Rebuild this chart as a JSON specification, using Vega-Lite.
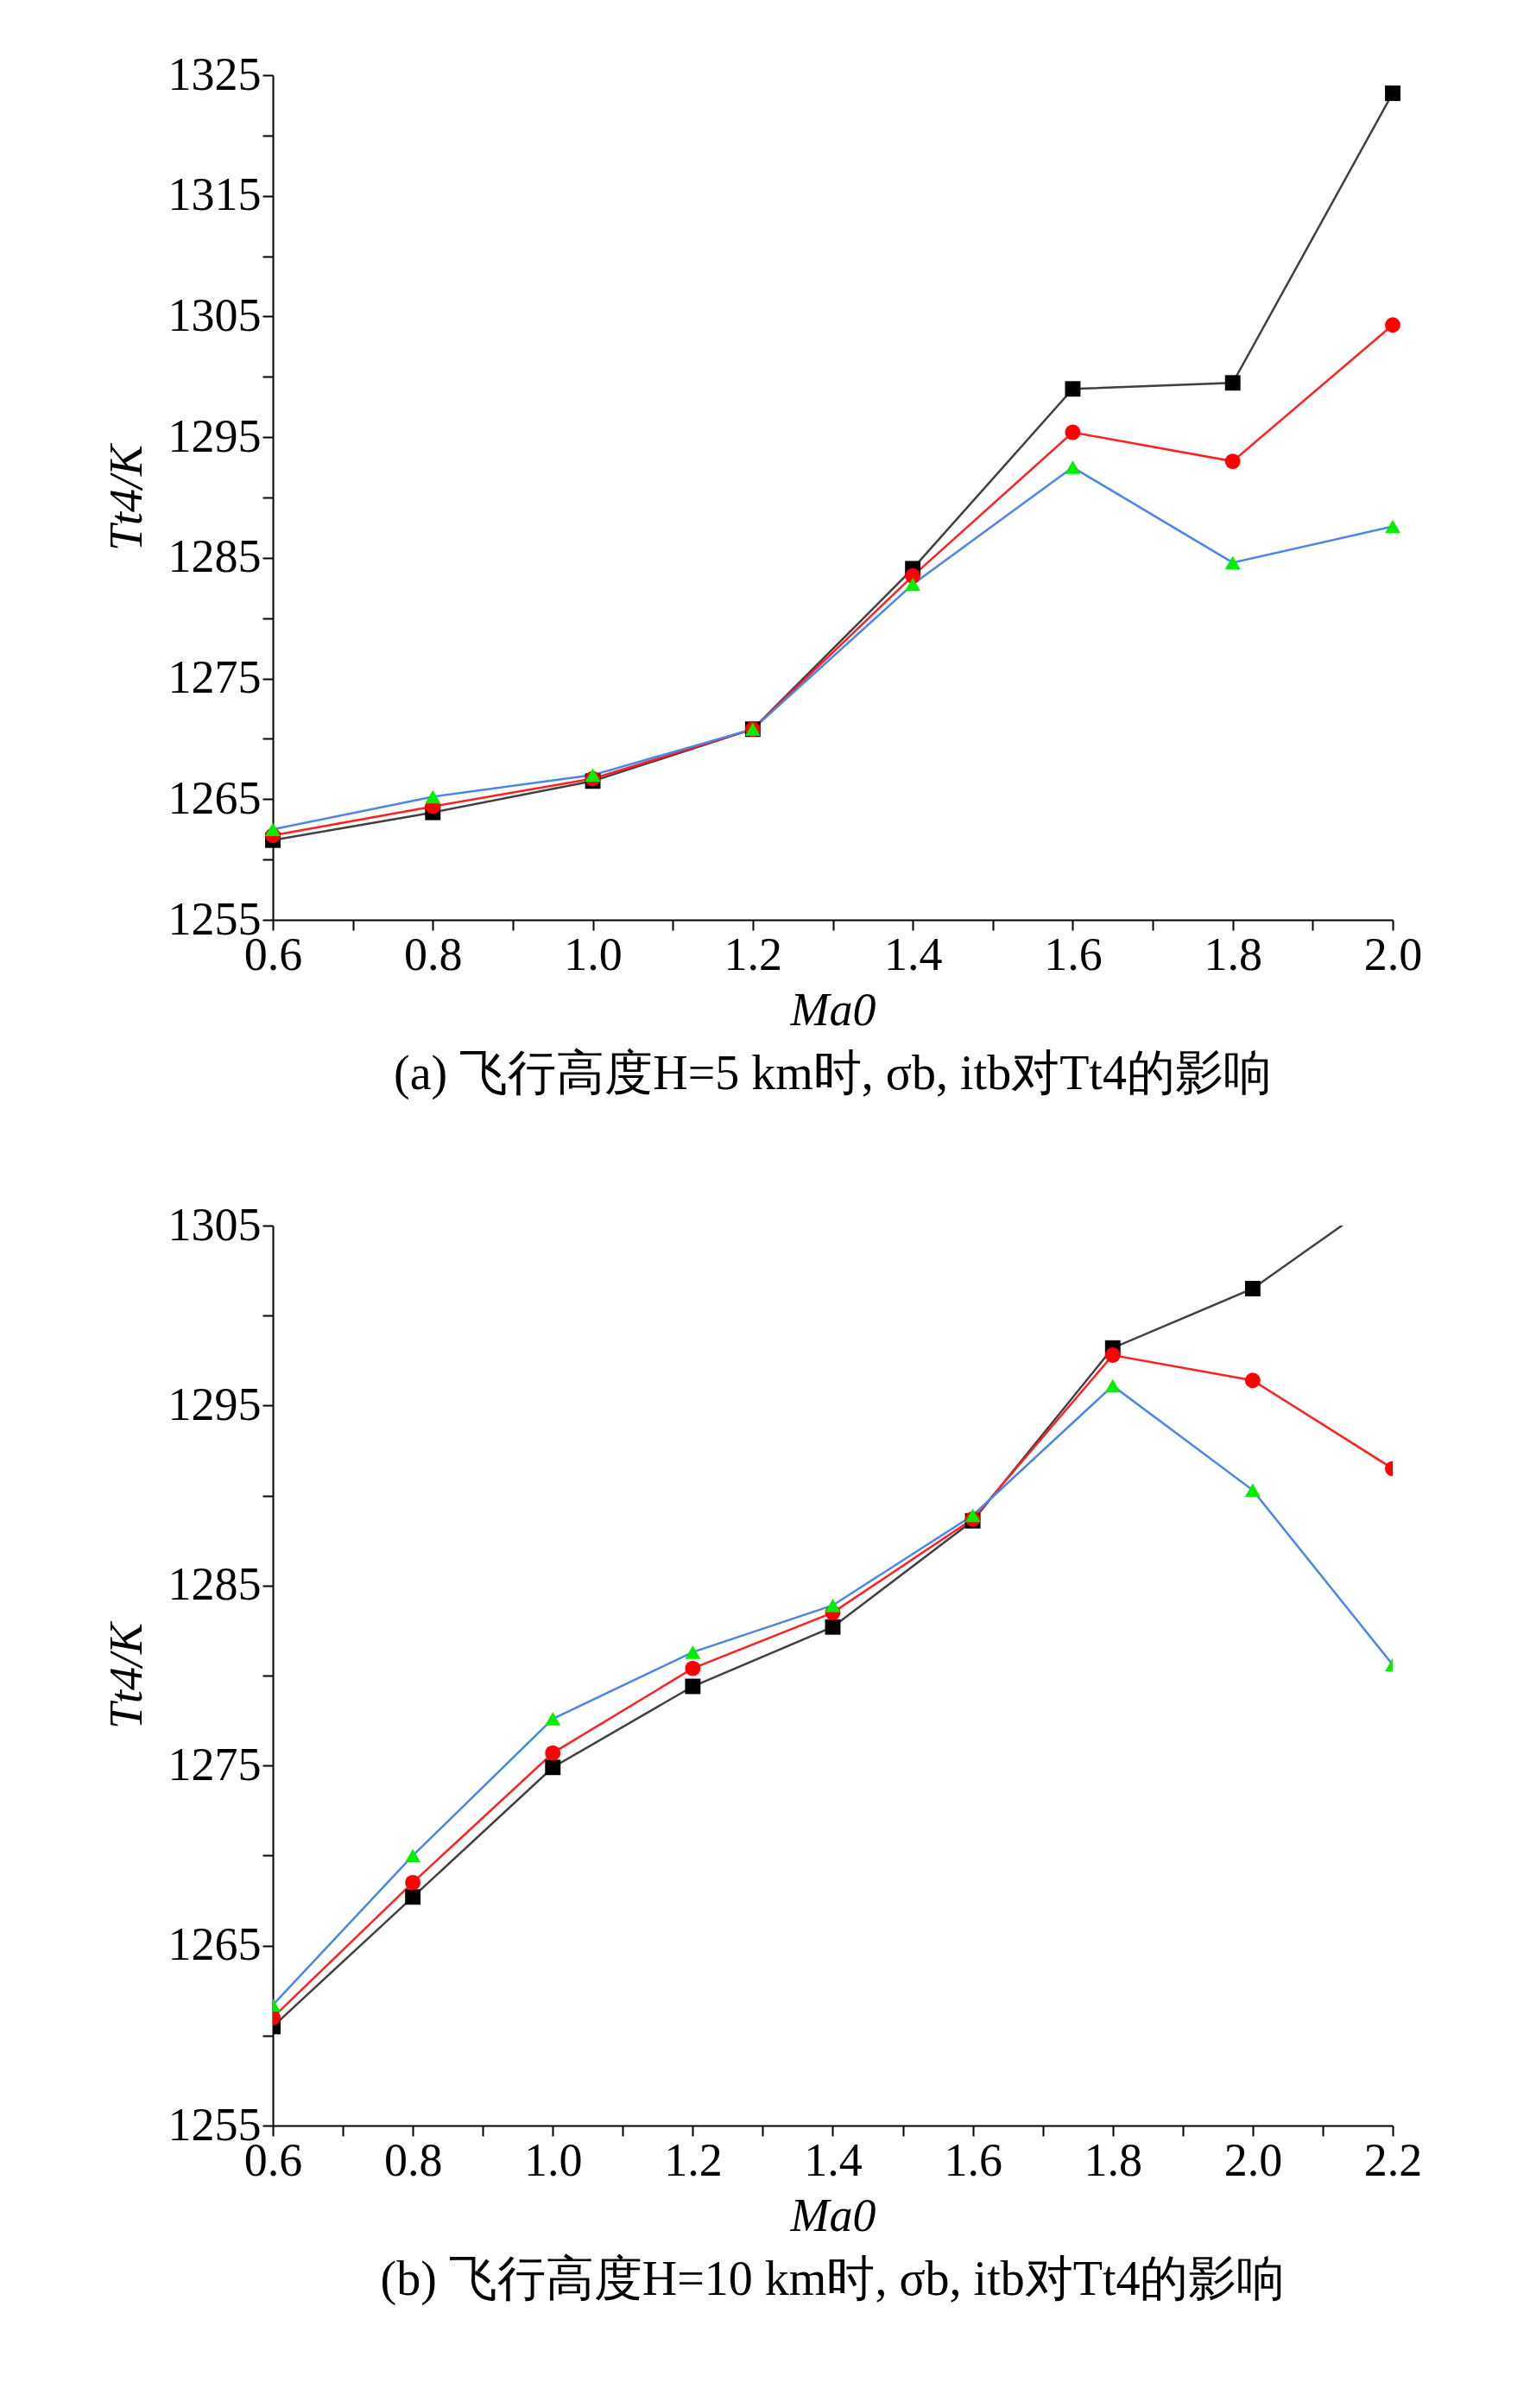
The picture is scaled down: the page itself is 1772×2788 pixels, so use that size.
{
"$schema":"https://vega.github.io/schema/vega-lite/v6.json",
"background":"white",
"padding":{"left":120,"top":60,"right":100,"bottom":20},
"config":{"font":"Liberation Serif","view":{"stroke":null},
 "axis":{"grid":false,"domainColor":"black","tickColor":"black","labelFontSize":54,"titleFontSize":54,"labelColor":"black","titleColor":"black","titleFontWeight":"normal","titleFontStyle":"italic","labelFont":"Liberation Serif","titleFont":"Liberation Serif","domainWidth":2,"tickWidth":2,"tickSize":12,"labelFlush":false},
 "legend":{"labelFontSize":54,"labelFont":"Liberation Serif","symbolSize":300,"rowPadding":20,"labelColor":"black"},
 "title":{"fontSize":56,"font":"Liberation Serif","fontWeight":"normal","color":"black"}},
"datasets":{
"a":[
{"ma":0.6,"s":"σb, itb=0.92","t":1261.6},{"ma":0.8,"s":"σb, itb=0.92","t":1263.9},{"ma":1.0,"s":"σb, itb=0.92","t":1266.5},{"ma":1.2,"s":"σb, itb=0.92","t":1270.8},{"ma":1.4,"s":"σb, itb=0.92","t":1284.1},{"ma":1.6,"s":"σb, itb=0.92","t":1299},{"ma":1.8,"s":"σb, itb=0.92","t":1299.5},{"ma":2.0,"s":"σb, itb=0.92","t":1323.5},
{"ma":0.6,"s":"σb, itb=0.86","t":1262},{"ma":0.8,"s":"σb, itb=0.86","t":1264.4},{"ma":1.0,"s":"σb, itb=0.86","t":1266.7},{"ma":1.2,"s":"σb, itb=0.86","t":1270.8},{"ma":1.4,"s":"σb, itb=0.86","t":1283.5},{"ma":1.6,"s":"σb, itb=0.86","t":1295.4},{"ma":1.8,"s":"σb, itb=0.86","t":1293},{"ma":2.0,"s":"σb, itb=0.86","t":1304.3},
{"ma":0.6,"s":"σb, itb=0.80","t":1262.5},{"ma":0.8,"s":"σb, itb=0.80","t":1265.2},{"ma":1.0,"s":"σb, itb=0.80","t":1267},{"ma":1.2,"s":"σb, itb=0.80","t":1270.8},{"ma":1.4,"s":"σb, itb=0.80","t":1282.8},{"ma":1.6,"s":"σb, itb=0.80","t":1292.5},{"ma":1.8,"s":"σb, itb=0.80","t":1284.6},{"ma":2.0,"s":"σb, itb=0.80","t":1287.6}],
"b":[
{"ma":0.6,"s":"σb, itb=0.92","t":1260.5},{"ma":0.8,"s":"σb, itb=0.92","t":1267.7},{"ma":1.0,"s":"σb, itb=0.92","t":1274.9},{"ma":1.2,"s":"σb, itb=0.92","t":1279.4},{"ma":1.4,"s":"σb, itb=0.92","t":1282.7},{"ma":1.6,"s":"σb, itb=0.92","t":1288.6},{"ma":1.8,"s":"σb, itb=0.92","t":1298.2},{"ma":2.0,"s":"σb, itb=0.92","t":1301.5},{"ma":2.2,"s":"σb, itb=0.92","t":1307},
{"ma":0.6,"s":"σb, itb=0.86","t":1261},{"ma":0.8,"s":"σb, itb=0.86","t":1268.5},{"ma":1.0,"s":"σb, itb=0.86","t":1275.7},{"ma":1.2,"s":"σb, itb=0.86","t":1280.4},{"ma":1.4,"s":"σb, itb=0.86","t":1283.5},{"ma":1.6,"s":"σb, itb=0.86","t":1288.7},{"ma":1.8,"s":"σb, itb=0.86","t":1297.8},{"ma":2.0,"s":"σb, itb=0.86","t":1296.4},{"ma":2.2,"s":"σb, itb=0.86","t":1291.5},
{"ma":0.6,"s":"σb, itb=0.80","t":1261.7},{"ma":0.8,"s":"σb, itb=0.80","t":1270},{"ma":1.0,"s":"σb, itb=0.80","t":1277.6},{"ma":1.2,"s":"σb, itb=0.80","t":1281.3},{"ma":1.4,"s":"σb, itb=0.80","t":1283.9},{"ma":1.6,"s":"σb, itb=0.80","t":1288.9},{"ma":1.8,"s":"σb, itb=0.80","t":1296.1},{"ma":2.0,"s":"σb, itb=0.80","t":1290.3},{"ma":2.2,"s":"σb, itb=0.80","t":1280.6}]
},
"resolve":{"scale":{"fill":"independent","shape":"independent","stroke":"independent"},"legend":{"fill":"independent","shape":"independent"}},
"vconcat":[
{"width":1297,"height":978,"data":{"name":"a"},
 "title":{"text":"(a) 飞行高度H=5 km时, σb, itb对Tt4的影响","orient":"bottom","offset":20},
 "encoding":{"x":{"field":"ma","type":"quantitative","title":"Ma0","scale":{"domain":[0.6,2.0],"nice":false},"axis":{"values":[0.6,0.7,0.8,0.9,1.0,1.1,1.2,1.3,1.4,1.5,1.6,1.7,1.8,1.9,2.0],"labelExpr":"(round(datum.value*10)%2==0) ? format(datum.value,'.1f') : ''","titlePadding":10}},
  "y":{"field":"t","type":"quantitative","title":"Tt4/K","scale":{"domain":[1255,1325],"nice":false},"axis":{"values":[1255,1260,1265,1270,1275,1280,1285,1290,1295,1300,1305,1310,1315,1320,1325],"labelExpr":"datum.value % 10 == 5 ? format(datum.value,'d') : ''","titlePadding":20}}},
 "layer":[
  {"mark":{"type":"line","strokeWidth":2.5},"encoding":{"stroke":{"field":"s","type":"nominal","sort":null,"scale":{"domain":["σb, itb=0.92","σb, itb=0.86","σb, itb=0.80"],"range":["#404040","#ff2020","#4a86e8"]},"legend":null}}},
  {"mark":{"type":"point","filled":true,"size":320,"opacity":1},"encoding":{
   "fill":{"field":"s","type":"nominal","sort":null,"scale":{"domain":["σb, itb=0.92","σb, itb=0.86","σb, itb=0.80"],"range":["black","red","#00ee00"]},"legend":{"title":null,"orient":"top-left","offsetX":40}},
   "shape":{"field":"s","type":"nominal","sort":null,"scale":{"domain":["σb, itb=0.92","σb, itb=0.86","σb, itb=0.80"],"range":["square","circle","triangle-up"]},"legend":{"title":null,"orient":"top-left","offsetX":40}}}}
 ]},
{"width":1297,"height":1042,"data":{"name":"b"},
 "title":{"text":"(b) 飞行高度H=10 km时, σb, itb对Tt4的影响","orient":"bottom","offset":20},
 "encoding":{"x":{"field":"ma","type":"quantitative","title":"Ma0","scale":{"domain":[0.6,2.2],"nice":false},"axis":{"values":[0.6,0.7,0.8,0.9,1.0,1.1,1.2,1.3,1.4,1.5,1.6,1.7,1.8,1.9,2.0,2.1,2.2],"labelExpr":"(round(datum.value*10)%2==0) ? format(datum.value,'.1f') : ''","titlePadding":10}},
  "y":{"field":"t","type":"quantitative","title":"Tt4/K","scale":{"domain":[1255,1305],"nice":false},"axis":{"values":[1255,1260,1265,1270,1275,1280,1285,1290,1295,1300,1305],"labelExpr":"datum.value % 10 == 5 ? format(datum.value,'d') : ''","titlePadding":20}}},
 "layer":[
  {"mark":{"type":"line","strokeWidth":2.5,"clip":true},"encoding":{"stroke":{"field":"s","type":"nominal","sort":null,"scale":{"domain":["σb, itb=0.92","σb, itb=0.86","σb, itb=0.80"],"range":["#404040","#ff2020","#4a86e8"]},"legend":null}}},
  {"mark":{"type":"point","filled":true,"size":320,"opacity":1,"clip":true},"encoding":{
   "fill":{"field":"s","type":"nominal","sort":null,"scale":{"domain":["σb, itb=0.92","σb, itb=0.86","σb, itb=0.80"],"range":["black","red","#00ee00"]},"legend":{"title":null,"orient":"top-left","offsetX":40}},
   "shape":{"field":"s","type":"nominal","sort":null,"scale":{"domain":["σb, itb=0.92","σb, itb=0.86","σb, itb=0.80"],"range":["square","circle","triangle-up"]},"legend":{"title":null,"orient":"top-left","offsetX":40}}}}
 ]}
],
"spacing":120
}
